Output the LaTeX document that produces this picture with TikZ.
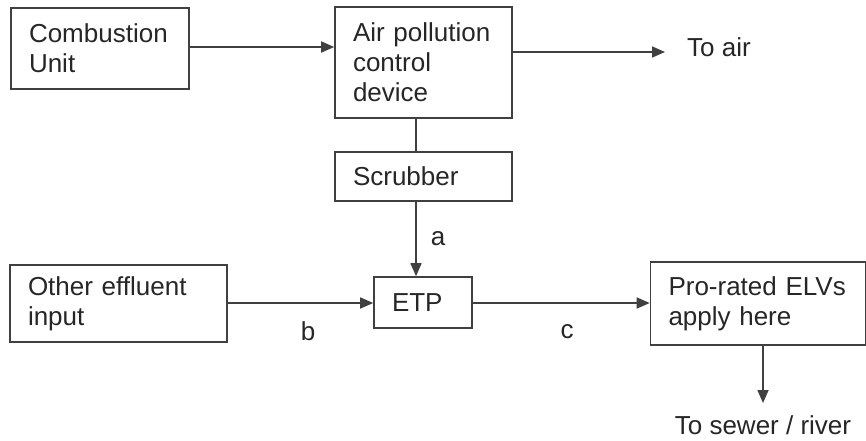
\documentclass[tikz,border=0pt]{standalone}
\usepackage{fontspec}
\setmainfont{Liberation Sans}
\usepackage{xcolor}
\usepackage{tikz}
\usetikzlibrary{arrows.meta}

\definecolor{inkgray}{HTML}{262626}
\definecolor{linegray}{HTML}{404040}

\tikzset{
    box/.style={draw=linegray, line width=1.6pt, inner xsep=18pt, inner ysep=0pt,
        align=left, text=inkgray, font=\fontsize{26}{30}\selectfont},
    lbl/.style={text=inkgray, font=\fontsize{26}{30}\selectfont, inner sep=0pt},
    flow/.style={draw=linegray, line width=1.6pt, -{Triangle[length=13pt, width=11pt]}},
    tie/.style={draw=linegray, line width=1.6pt}
}

\begin{document}
\begin{tikzpicture}[x=1pt, y=-1pt]

    \useasboundingbox (0,0) rectangle (866,440);

    % top row
    \node[box, text width=142pt, minimum height=81pt] (comb) at (100,48.5) {Combustion\\Unit};
    \node[box, text width=141pt, minimum height=111pt] (apc) at (423.5,62.5) {Air pollution\\control\\device};
    \node[box, text width=141pt, minimum height=49pt] (scrub) at (423.5,176.5) {Scrubber};

    % bottom row
    \node[box, text width=181pt, minimum height=77pt] (other) at (118.5,303.5) {Other effluent\\input};
    \node[box, text width=62pt, minimum height=51pt] (etp) at (423,302.5) {ETP};
    \node[box, text width=179pt, minimum height=83pt] (elv) at (758,303.5) {Pro-rated ELVs\\apply here};

    % free ends
    \coordinate (col) at (416,0);
    \coordinate (airend) at (665,52);
    \coordinate (riverend) at (763,403);

    \node[lbl, anchor=west] (toair) at (687,47) {To air};
    \node[lbl] (toriver) at (763,425) {To sewer / river};

    % connectors
    \draw[flow] (comb.east |- 0,47) -- (apc.west |- 0,47);
    \draw[flow] (airend -| apc.east) -- (airend);
    \draw[tie] (apc.south -| col) -- (scrub.north -| col);
    \draw[flow] (scrub.south -| col) -- (etp.north -| col);
    \draw[flow] (other.east |- 0,303) -- (etp.west |- 0,303);
    \draw[flow] (etp.east |- 0,303) -- (elv.west |- 0,303);
    \draw[flow] (riverend |- elv.south) -- (riverend);

    % stream labels
    \node[lbl] (lbla) at (438,239) {a};
    \node[lbl] (lblb) at (308,331) {b};
    \node[lbl] (lblc) at (567,332) {c};

\end{tikzpicture}
\end{document}
